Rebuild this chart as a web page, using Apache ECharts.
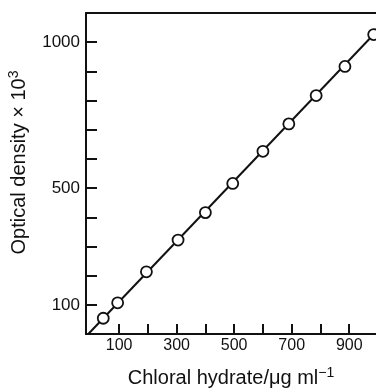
<!DOCTYPE html>
<html><head><meta charset="utf-8">
<script src="https://cdn.jsdelivr.net/npm/echarts@6/dist/echarts.min.js"></script>
<style>html,body{margin:0;padding:0;background:#fff}#c{width:376px;height:388px}</style>
</head><body><div id="c"></div>
<script>
const concentration = [45, 95, 195, 305, 400, 495, 600, 690, 785, 885, 985];
const opticalDensity = [54, 107, 213, 322, 416, 516, 626, 720, 817, 917, 1026];
const fitX = [-7, 1000];
const fitY = [0, 1042];
const xTicks = [100, 200, 300, 400, 500, 600, 700, 800, 900];
const xLabels = [100, 300, 500, 700, 900];
const yTicks = [100, 200, 300, 400, 500, 600, 700, 800, 900, 1000];
const yLabels = [100, 500, 1000];

const font = '"Liberation Sans", Arial, sans-serif';
const richSup = {
  sup: {fontFamily: font, fontSize: 14, color: '#111', verticalAlign: 'top', lineHeight: 24}
};
const chart = echarts.init(document.getElementById('c'), null, {renderer: 'canvas'});
chart.setOption({
  animation: false,
  backgroundColor: '#fff',
  grid: {left: 86, right: 0, top: 13, bottom: 54, containLabel: false, outerBoundsMode: 'none'},
  xAxis: [{
    type: 'value', min: -15, max: 993,
    name: 'Chloral hydrate/\u03bcg ml{sup|\u22121}',
    nameLocation: 'middle', nameGap: 32,
    nameTextStyle: {fontFamily: font, fontSize: 20, color: '#111', lineHeight: 24, rich: richSup},
    axisLine: {show: true, onZero: false, lineStyle: {color: '#111', width: 2}},
    axisTick: {show: true, inside: true, length: 10, customValues: xTicks, lineStyle: {color: '#111', width: 2}},
    axisLabel: {customValues: xLabels, fontFamily: font, fontSize: 16, color: '#111', margin: 4},
    splitLine: {show: false}
  }, {
    type: 'value', position: 'top', min: -15, max: 993,
    axisLine: {show: true, onZero: false, lineStyle: {color: '#111', width: 2}},
    axisTick: {show: false}, axisLabel: {show: false}, splitLine: {show: false}
  }],
  yAxis: {
    type: 'value', min: 0, max: 1100,
    name: 'Optical density \u00d7 10{sup|3}',
    nameLocation: 'middle', nameGap: 42,
    nameTextStyle: {fontFamily: font, fontSize: 20, color: '#111', lineHeight: 24, padding: [0, 0, 0, 22], rich: richSup},
    axisLine: {show: true, onZero: false, lineStyle: {color: '#111', width: 2}},
    axisTick: {show: true, inside: true, length: 11, customValues: yTicks, lineStyle: {color: '#111', width: 2}},
    axisLabel: {customValues: yLabels, fontFamily: font, fontSize: 17, color: '#111', margin: 6,
      formatter: v => String(v)},
    splitLine: {show: false}
  },
  series: [{
    type: 'line',
    data: fitX.map((x, i) => [x, fitY[i]]),
    symbol: 'none',
    lineStyle: {color: '#111', width: 2},
    silent: true, z: 2
  }, {
    type: 'scatter',
    data: concentration.map((x, i) => [x, opticalDensity[i]]),
    symbol: 'circle', symbolSize: 11,
    itemStyle: {color: '#fff', borderColor: '#111', borderWidth: 1.8, opacity: 1},
    z: 3
  }]
});
</script></body></html>
